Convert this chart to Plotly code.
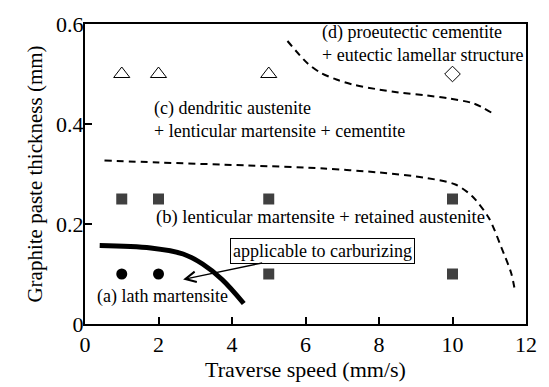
import plotly.graph_objects as go

# Marker data
circle_x = [1, 2]
circle_y = [0.1, 0.1]
square_x = [1, 2, 5, 10, 5, 10]
square_y = [0.25, 0.25, 0.25, 0.25, 0.1, 0.1]
triangle_x = [1, 2, 5]
triangle_y = [0.5, 0.5, 0.5]
diamond_x = [10]
diamond_y = [0.5]

# Boundary curves
upper_x = [5.51, 5.73, 6.06, 6.4, 6.84, 7.28, 7.91, 8.53, 9.29, 9.91, 10.58, 11.1]
upper_y = [0.566, 0.547, 0.521, 0.503, 0.489, 0.479, 0.470, 0.463, 0.457, 0.451, 0.441, 0.421]
lower_x = [0.53, 2.0, 4.45, 6.5, 8.0, 9.3, 10.08, 10.53, 10.99, 11.33, 11.6, 11.7]
lower_y = [0.327, 0.323, 0.317, 0.311, 0.303, 0.292, 0.279, 0.256, 0.212, 0.153, 0.101, 0.066]
lath_x = [0.4, 1.79, 2.67, 3.2, 3.73, 4.32]
lath_y = [0.157, 0.152, 0.14, 0.12, 0.089, 0.041]

x_ticks = [0, 2, 4, 6, 8, 10, 12]
y_ticks = [0, 0.2, 0.4, 0.6]
y_tick_labels = ["0", "0.2", "0.4", "0.6"]

FONT = "Liberation Serif, Times New Roman, serif"

fig = go.Figure()
fig.add_trace(go.Scatter(x=upper_x, y=upper_y, mode="lines",
                         line=dict(color="black", width=2, dash="7px,5px", shape="spline", smoothing=0.8)))
fig.add_trace(go.Scatter(x=lower_x, y=lower_y, mode="lines",
                         line=dict(color="black", width=2, dash="7px,5px", shape="spline", smoothing=0.8)))
fig.add_trace(go.Scatter(x=lath_x, y=lath_y, mode="lines",
                         line=dict(color="black", width=5, shape="spline")))
fig.add_trace(go.Scatter(x=circle_x, y=circle_y, mode="markers",
                         marker=dict(symbol="circle", size=11, color="black")))
fig.add_trace(go.Scatter(x=square_x, y=square_y, mode="markers",
                         marker=dict(symbol="square", size=11, color="#404040")))
fig.add_trace(go.Scatter(x=triangle_x, y=triangle_y, mode="markers",
                         marker=dict(symbol="triangle-up-open", size=14, color="black",
                                     line=dict(width=1))))
fig.add_trace(go.Scatter(x=diamond_x, y=diamond_y, mode="markers",
                         marker=dict(symbol="diamond-open", size=12, color="black",
                                     line=dict(width=1))))

tf = dict(family=FONT, size=18, color="black")
fig.add_annotation(x=0.27, y=0.056, text="(a) lath martensite", showarrow=False,
                   xanchor="left", yanchor="middle", font=tf)
fig.add_annotation(x=1.87, y=0.215, text="(b) lenticular martensite + retained austenite",
                   showarrow=False, xanchor="left", yanchor="middle",
                   font=dict(family=FONT, size=18.6, color="black"))
fig.add_annotation(x=1.81, y=0.409, text="(c) dendritic austenite<br>+ lenticular martensite + cementite",
                   showarrow=False, xanchor="left", yanchor="middle", align="left", font=tf)
fig.add_annotation(x=6.4, y=0.561, text="(d) proeutectic cementite<br>+ eutectic lamellar structure",
                   showarrow=False, xanchor="left", yanchor="middle", align="left", font=tf)
fig.add_annotation(x=2.67, y=0.089, ax=6.45, ay=0.147, axref="x", ayref="y",
                   text="applicable to carburizing", showarrow=True,
                   arrowhead=5, arrowsize=1.6, arrowwidth=1.3, arrowcolor="black",
                   bordercolor="black", borderwidth=1, borderpad=2, bgcolor="white",
                   font=tf)

axis_common = dict(showline=True, linecolor="black", linewidth=2, mirror=True,
                   ticks="inside", ticklen=7, tickwidth=1.5, tickcolor="black",
                   showgrid=False, zeroline=False,
                   tickfont=dict(family=FONT, size=22, color="black"))
fig.update_xaxes(range=[0, 12], tickvals=x_ticks, ticktext=[str(v) for v in x_ticks],
                 title=dict(text="Traverse speed (mm/s)", font=dict(family=FONT, size=22, color="black"),
                            standoff=2),
                 **axis_common)
fig.update_yaxes(range=[0, 0.6], tickvals=y_ticks, ticktext=y_tick_labels,
                 ticklabelstandoff=-5,
                 title=dict(text="Graphite paste thickness (mm)", font=dict(family=FONT, size=21, color="black"),
                            standoff=8),
                 **axis_common)
fig.update_layout(width=549, height=387, margin=dict(l=85, r=14, t=20, b=58),
                  plot_bgcolor="white", paper_bgcolor="white", showlegend=False)
fig.write_html("out.html")
